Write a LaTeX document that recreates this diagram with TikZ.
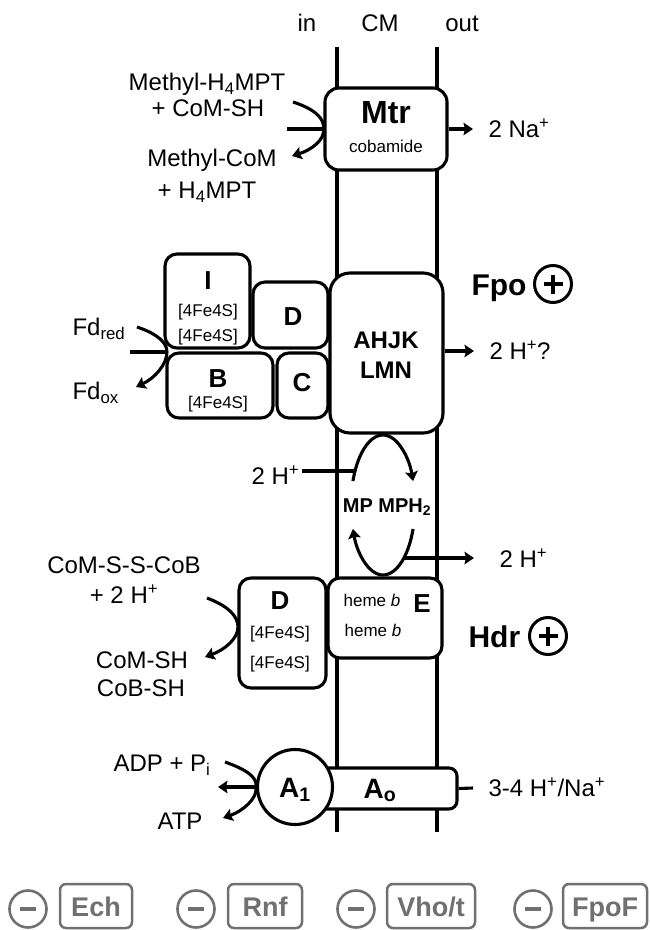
\documentclass[tikz,border=0pt]{standalone}
\usepackage{fontspec}
\setmainfont{Liberation Sans}
\usetikzlibrary{arrows.meta}
\definecolor{greyc}{RGB}{112,112,112}
\begin{document}
\begin{tikzpicture}[x=1pt,y=-1pt,line width=3.1pt,
  box/.style={draw,fill=white,inner sep=0pt,rounded corners=12pt},
  gbox/.style={draw=greyc,line width=2.5pt,fill=white,inner sep=0pt,rounded corners=6pt},
  mcirc/.style={circle,draw=greyc,line width=2.6pt,minimum size=37pt,inner sep=0pt},
  pcirc/.style={circle,draw,line width=3pt,minimum size=37pt,inner sep=0pt},
  t24/.style={inner sep=0pt,text depth=0pt,text height=17.2pt,font=\fontsize{24}{28}\selectfont},
  t17/.style={inner sep=0pt,text depth=0pt,text height=12.2pt,font=\fontsize{17}{20}\selectfont},
  b20/.style={inner sep=0pt,text depth=0pt,text height=14.3pt,font=\fontsize{20}{24}\selectfont\bfseries},
  b24/.style={inner sep=0pt,text depth=0pt,text height=17.2pt,font=\fontsize{24}{28}\selectfont\bfseries},
  b26/.style={inner sep=0pt,text depth=0pt,text height=18.6pt,font=\fontsize{26}{30}\selectfont\bfseries},
  b28/.style={inner sep=0pt,text depth=0pt,text height=20pt,font=\fontsize{28}{32}\selectfont\bfseries},
  b30/.style={inner sep=0pt,text depth=0pt,text height=21.5pt,font=\fontsize{30}{34}\selectfont\bfseries},
  b32/.style={inner sep=0pt,text depth=0pt,text height=22.9pt,font=\fontsize{32}{36}\selectfont\bfseries},
  g27/.style={inner sep=0pt,text depth=0pt,text height=19.3pt,text=greyc,font=\fontsize{27}{30}\selectfont\bfseries},
  arr/.style={-{Stealth[length=9.5pt,width=12.5pt,inset=1.5pt]}},
]
\useasboundingbox (0,0) rectangle (650,930);

% membrane
\coordinate (mLt) at (337,47); \coordinate (mLb) at (337,832);
\coordinate (mRt) at (437,47); \coordinate (mRb) at (437,832);
\draw (mLt) -- (mLb);
\draw (mRt) -- (mRb);
\node[t24] (in) at (307,23) {in};
\node[t24] (cm) at (380,23) {CM};
\node[t24] (out) at (462,23) {out};

% Mtr
\node[box,rounded corners=14pt,minimum width=122pt,minimum height=82pt] (mtr) at (386,129) {};
\node[b32] (mtrlab) at (386,112) {Mtr};
\node[t17] (cob) at (386,146) {cobamide};
\node[t24] (mh4) at (207,82) {Methyl-H\textsubscript{4}MPT};
\node[t24] (comsh) at (208,108) {+ CoM-SH};
\node[t24] (mcom) at (212,158) {Methyl-CoM};
\node[t24] (h4mpt) at (207,190) {+ H\textsubscript{4}MPT};
\coordinate (mtrL) at (287,129);
\coordinate (mtrIn) at (293,102);
\coordinate (mtrOut) at (292,156);
\draw (mtrL) -- (mtr.west);
\draw[arr] (mtrIn) .. controls (315,109) and (325,119) .. (mtr.west) .. controls (325,140) and (311,150) .. (mtrOut);
\node[t24,anchor=west] (na) at (487,129) {2 Na\textsuperscript{+}};
\coordinate (naTip) at (473,129);
\draw[arr] (mtr.east) -- (naTip);

% Fpo
\node[box,minimum width=85pt,minimum height=94pt] (fpoI) at (207.5,301) {};
\node[box,minimum width=75pt,minimum height=66pt] (fpoD) at (290.5,315) {};
\node[box,minimum width=106pt,minimum height=65pt] (fpoB) at (220,385.5) {};
\node[box,minimum width=51pt,minimum height=65pt] (fpoC) at (302.5,385.5) {};
\node[box,rounded corners=20pt,minimum width=113pt,minimum height=160pt] (ahjk) at (386.5,353) {};
\node[b26] (lI) at (208,280) {I};
\node[t17] (fesI1) at (208,310) {[4Fe4S]};
\node[t17] (fesI2) at (208,335) {[4Fe4S]};
\node[b26] (lD) at (293,316) {D};
\node[b26] (lB) at (218,378) {B};
\node[t17] (fesB) at (218,402) {[4Fe4S]};
\node[b26] (lC) at (302,382) {C};
\node[b24] (ahjkT) at (386,340) {AHJK};
\node[b24] (lmnT) at (386,370) {LMN};
\node[t24,anchor=west] (fdred) at (71,327) {Fd\textsubscript{red}};
\node[t24,anchor=west] (fdox) at (71,391) {Fd\textsubscript{ox}};
\coordinate (fdL) at (130,352);
\coordinate (fdJ) at (167,352);
\coordinate (fdIn) at (137,327);
\coordinate (fdOut) at (136,387);
\draw (fdL) -- (fdJ);
\draw[arr] (fdIn) .. controls (158,334) and (167,343) .. (fdJ) .. controls (167,364) and (155,378) .. (fdOut);
\node[t24,anchor=west] (h2q) at (488,351) {2 H\textsuperscript{+}?};
\coordinate (h2qTip) at (474,351);
\draw[arr] (ahjk.east |- h2qTip) -- (h2qTip);
\node[b30,anchor=west] (fpo) at (470,285) {Fpo};
\node[pcirc] (fpoplus) at (553,284) {};
\draw[line width=3.8pt] ([xshift=-9.5pt]fpoplus.center) -- ([xshift=9.5pt]fpoplus.center);
\draw[line width=3.8pt] ([yshift=-9.5pt]fpoplus.center) -- ([yshift=9.5pt]fpoplus.center);

% MP / MPH2 cycle
\node[b20] (mp) at (387,505) {MP MPH\textsubscript{2}};
\coordinate (ovTL) at (352.93,481.06);
\coordinate (ovBR) at (413.07,528.94);
\draw[arr] (ovTL) arc[start angle=200,end angle=340,x radius=32,y radius=70];
\draw[arr] (ovBR) arc[start angle=20,end angle=160,x radius=32,y radius=70];
\node[t24,anchor=west] (hin) at (250,476) {2 H\textsuperscript{+}};
\coordinate (hinS) at (302,471);
\coordinate (hinE) at (355,471);
\draw (hinS) -- (hinE);
\coordinate (houtS) at (404,558);
\coordinate (houtT) at (474,558);
\draw[arr] (houtS) -- (houtT);
\node[t24,anchor=west] (hout) at (498,559) {2 H\textsuperscript{+}};

% Hdr
\node[box,minimum width=87pt,minimum height=110pt] (hdrD) at (282.5,633) {};
\node[box,minimum width=114pt,minimum height=80pt] (hdrE) at (385,618) {};
\node[b26] (lD2) at (280,600) {D};
\node[t17] (fesD1) at (280,632) {[4Fe4S]};
\node[t17] (fesD2) at (280,662) {[4Fe4S]};
\node[t17] (heme1) at (372,600) {heme \textit{b}};
\node[t17] (heme2) at (373,630) {heme \textit{b}};
\node[b26] (lE) at (422,603) {E};
\node[t24] (cssc) at (124,565) {CoM-S-S-CoB};
\node[t24] (p2h) at (124,595) {+ 2 H\textsuperscript{+}};
\node[t24] (comsh2) at (142,660) {CoM-SH};
\node[t24] (cobsh) at (141,688) {CoB-SH};
\coordinate (hdrIn) at (207,598);
\coordinate (hdrJ) at (238,627);
\coordinate (hdrOut) at (205,657);
\draw[arr] (hdrIn) .. controls (228,606) and (238,616) .. (hdrJ) .. controls (238,639) and (224,650) .. (hdrOut);
\node[b30,anchor=west] (hdr) at (467,637) {Hdr};
\node[pcirc] (hdrplus) at (548,636) {};
\draw[line width=3.8pt] ([xshift=-9.5pt]hdrplus.center) -- ([xshift=9.5pt]hdrplus.center);
\draw[line width=3.8pt] ([yshift=-9.5pt]hdrplus.center) -- ([yshift=9.5pt]hdrplus.center);

% ATP synthase
\node[box,rounded corners=8pt,minimum width=157pt,minimum height=41pt] (ao) at (378.5,788.5) {};
\node[circle,draw,fill=white,minimum size=75pt,inner sep=0pt] (a1) at (295,787) {};
\node[b28] (a1T) at (295,787) {A\textsubscript{1}};
\node[b28] (aoT) at (380,788) {A\textsubscript{o}};
\coordinate (aoR) at (473,788);
\draw (ao.east) -- (aoR);
\node[t24,anchor=west] (hna) at (487,788) {3-4 H\textsuperscript{+}/Na\textsuperscript{+}};
\node[t24] (adp) at (162,763) {ADP + P\textsubscript{i}};
\node[t24] (atp) at (180,821) {ATP};
\coordinate (atpIn) at (225,762);
\coordinate (atpOut) at (223,818);
\coordinate (atpTip) at (218,787);
\draw[arr] (a1.west) -- (atpTip);
\draw[arr] (atpIn) .. controls (245,769) and (258,777) .. (a1.west) .. controls (258,798) and (243,811) .. (atpOut);

% bottom row
\node[mcirc] (m1) at (28,909) {};
\node[mcirc] (m2) at (196,909) {};
\node[mcirc] (m3) at (356,909) {};
\node[mcirc] (m4) at (533,909) {};
\foreach \m in {m1,m2,m3,m4}{
  \draw[greyc,line width=4.4pt] ([xshift=-8pt]\m.center) -- ([xshift=8pt]\m.center);
}
\node[gbox,minimum width=72pt,minimum height=44pt] (ech) at (96,906) {};
\node[gbox,minimum width=74pt,minimum height=44pt] (rnf) at (265,906) {};
\node[gbox,minimum width=88pt,minimum height=44pt] (vho) at (431,906) {};
\node[gbox,minimum width=84pt,minimum height=44pt] (fpof) at (605,906) {};
\node[g27] (echT) at (96,907) {Ech};
\node[g27] (rnfT) at (265,907) {Rnf};
\node[g27] (vhoT) at (431,907) {Vho/t};
\node[g27] (fpofT) at (605,907) {FpoF};
\end{tikzpicture}
\end{document}
